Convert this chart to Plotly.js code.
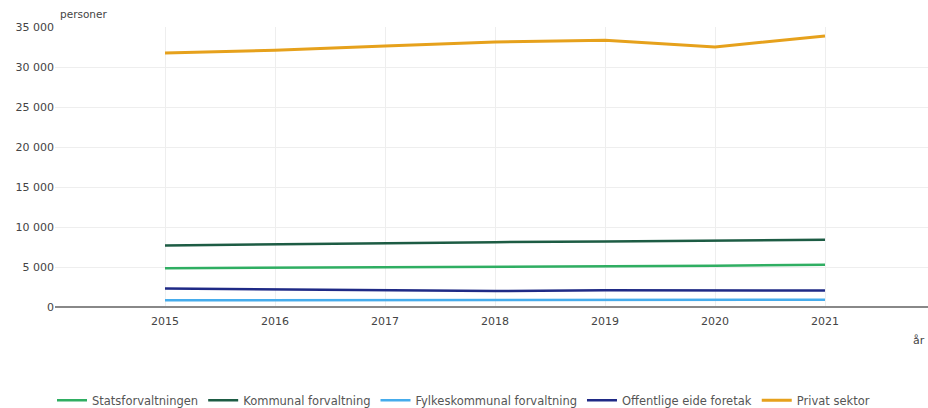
<!DOCTYPE html>
<html><head><meta charset="utf-8">
<script src="https://cdn.plot.ly/plotly-3.0.1.min.js"></script>
<style>html,body{margin:0;padding:0;background:#fff;overflow:hidden}</style>
</head><body>
<div id="chart" style="width:928px;height:408px"></div>
<script>
const years = [2015, 2016, 2017, 2018, 2019, 2020, 2021];
const statsforvaltningen = [4850, 4900, 4930, 4970, 5050, 5150, 5280];
const kommunal = [7700, 7850, 7980, 8100, 8200, 8300, 8420];
const fylkeskommunal = [830, 840, 850, 870, 880, 900, 920];
const offentligeEide = [2300, 2200, 2100, 2000, 2100, 2050, 2050];
const privatSektor = [31750, 32090, 32620, 33120, 33340, 32500, 33880];
const seriesNames = ["Statsforvaltningen", "Kommunal forvaltning", "Fylkeskommunal forvaltning", "Offentlige eide foretak", "Privat sektor"];
const yTicks = [0, 5000, 10000, 15000, 20000, 25000, 30000, 35000];

const colors = ["#2fae62", "#1d5c44", "#45acec", "#1f2a86", "#e6a11c"];
const data = [statsforvaltningen, kommunal, fylkeskommunal, offentligeEide, privatSektor];
const traces = data.map((vals, i) => ({
  x: years, y: vals, name: seriesNames[i], type: 'scatter', mode: 'lines',
  line: {color: colors[i], width: i === 4 ? 3 : 2.5}
}));

const layout = {
  width: 928, height: 408,
  margin: {l: 55, r: 0, t: 27, b: 101, autoexpand: false},
  separators: ", ",
  paper_bgcolor: '#fff', plot_bgcolor: '#fff',
  font: {family: 'DejaVu Sans, Verdana, sans-serif', size: 11, color: '#444'},
  showlegend: true,
  legend: {orientation: 'h', x: -3/873, xanchor: 'left', y: -0.333, yanchor: 'middle',
           font: {size: 11.5, color: '#555'}, traceorder: 'normal', itemwidth: 30},
  xaxis: {range: [2014, 2014 + 873/110], tickvals: years, ticktext: years.map(String),
          showgrid: true, gridcolor: '#eeeeee', zeroline: false, showline: false,
          ticks: '', ticklabelstandoff: 6, tickfont: {size: 11, color: '#444'}, fixedrange: true},
  yaxis: {range: [0, 35000], tickvals: yTicks, tickformat: ',d',
          showgrid: true, gridcolor: '#eeeeee', zeroline: true, zerolinecolor: '#888', zerolinewidth: 1.5,
          showline: false, ticks: '', tickfont: {size: 11, color: '#444'}, fixedrange: true},
  annotations: [
    {text: 'personer', xref: 'paper', yref: 'paper', x: 0.003, y: 1, xanchor: 'left', yanchor: 'bottom',
     yshift: 5, showarrow: false, font: {size: 10.5, color: '#444'}},
    {text: 'år', xref: 'paper', yref: 'paper', x: 1, xshift: -1, y: -0.12, xanchor: 'right', yanchor: 'middle',
     showarrow: false, font: {size: 11, color: '#444'}}
  ]
};
Plotly.newPlot('chart', traces, layout, {displayModeBar: false, staticPlot: true});
</script>
</body></html>
